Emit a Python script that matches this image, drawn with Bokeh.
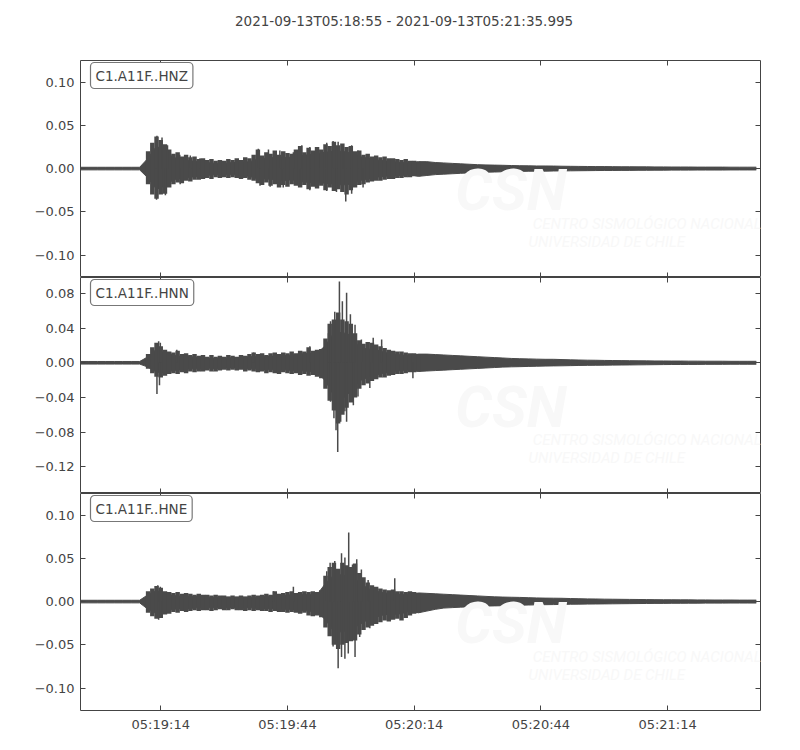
import numpy as np
import pandas as pd
from bokeh.plotting import figure
from bokeh.layouts import column
from bokeh.models import (ColumnDataSource, Range1d, FixedTicker, LinearAxis, DatetimeAxis,
                          CustomJSTickFormatter, DatetimeTickFormatter, Label)
from bokeh.core.properties import value
from bokeh.embed import file_html
from bokeh.resources import INLINE

# ---- data ----
title_text = "2021-09-13T05:18:55  -  2021-09-13T05:21:35.995"
start_time = "2021-09-13T05:18:55"
duration_s = 160.995
channels = ["C1.A11F..HNZ", "C1.A11F..HNN", "C1.A11F..HNE"]
time_tick_labels = ["05:19:14", "05:19:44", "05:20:14", "05:20:44", "05:21:14"]
y_ticks = [
    [-0.10, -0.05, 0.0, 0.05, 0.10],
    [-0.12, -0.08, -0.04, 0.0, 0.04, 0.08],
    [-0.10, -0.05, 0.0, 0.05, 0.10],
]
y_limits = [(-0.126, 0.125), (-0.151, 0.0985), (-0.126, 0.125)]

# dense core of each trace, every 2 s from the start time (0 .. 160 s)
core_seconds = np.arange(0, 161, 2)
hnz_core_hi = [
    0.0015, 0.0015, 0.0015, 0.0015, 0.0015, 0.0015, 0.0015, 0.0015, 0.012, 0.026,
    0.020, 0.013, 0.010, 0.009, 0.008, 0.007, 0.006, 0.006, 0.007, 0.007,
    0.008, 0.011, 0.012, 0.013, 0.013, 0.013, 0.015, 0.016, 0.017, 0.019,
    0.020, 0.020, 0.018, 0.014, 0.012, 0.010, 0.009, 0.008, 0.007, 0.0065,
    0.008, 0.008, 0.007, 0.0065, 0.006, 0.0055, 0.005, 0.0045, 0.0042, 0.004,
    0.0038, 0.0035, 0.0033, 0.0032, 0.003, 0.003, 0.0029, 0.0027, 0.0026, 0.0025,
    0.0024, 0.0023, 0.0023, 0.0022, 0.0021, 0.0021, 0.002, 0.002, 0.0019, 0.0019,
    0.0018, 0.0018, 0.0018, 0.0017, 0.0017, 0.0017, 0.0017, 0.0016, 0.0016, 0.0016,
    0.0016]
hnz_core_lo = [
    -0.0015, -0.0015, -0.0015, -0.0015, -0.0015, -0.0015, -0.0015, -0.0015, -0.011, -0.024,
    -0.020, -0.013, -0.011, -0.010, -0.009, -0.008, -0.007, -0.007, -0.007, -0.008,
    -0.009, -0.012, -0.012, -0.013, -0.014, -0.013, -0.015, -0.016, -0.016, -0.017,
    -0.018, -0.019, -0.018, -0.014, -0.012, -0.010, -0.009, -0.008, -0.008, -0.007,
    -0.009, -0.008, -0.007, -0.0065, -0.006, -0.0055, -0.005, -0.0045, -0.0042, -0.004,
    -0.0037, -0.0035, -0.0033, -0.0031, -0.003, -0.003, -0.0028, -0.0027, -0.0026, -0.0025,
    -0.0024, -0.0023, -0.0022, -0.0022, -0.0021, -0.0021, -0.002, -0.002, -0.0019, -0.0019,
    -0.0018, -0.0018, -0.0018, -0.0017, -0.0017, -0.0017, -0.0017, -0.0016, -0.0016, -0.0016,
    -0.0016]
hnn_core_hi = [
    0.0015, 0.0015, 0.0015, 0.0015, 0.0015, 0.0015, 0.0015, 0.0015, 0.007, 0.016,
    0.011, 0.009, 0.007, 0.007, 0.006, 0.005, 0.005, 0.005, 0.006, 0.006,
    0.007, 0.007, 0.007, 0.008, 0.008, 0.009, 0.010, 0.011, 0.011, 0.020,
    0.035, 0.035, 0.032, 0.018, 0.016, 0.015, 0.012, 0.010, 0.009, 0.008,
    0.010, 0.010, 0.0095, 0.009, 0.0085, 0.008, 0.0075, 0.007, 0.0065, 0.006,
    0.0055, 0.005, 0.0047, 0.0045, 0.0042, 0.004, 0.004, 0.0037, 0.0034, 0.0032,
    0.003, 0.0029, 0.0027, 0.0026, 0.0025, 0.0024, 0.0023, 0.0022, 0.0021, 0.0021,
    0.002, 0.002, 0.0019, 0.0019, 0.0018, 0.0018, 0.0018, 0.0017, 0.0017, 0.0017,
    0.0017]
hnn_core_lo = [
    -0.0015, -0.0015, -0.0015, -0.0015, -0.0015, -0.0015, -0.0015, -0.0015, -0.005, -0.011,
    -0.011, -0.009, -0.008, -0.007, -0.007, -0.006, -0.007, -0.006, -0.006, -0.006,
    -0.007, -0.007, -0.008, -0.008, -0.008, -0.009, -0.009, -0.010, -0.011, -0.021,
    -0.038, -0.042, -0.033, -0.021, -0.017, -0.014, -0.012, -0.010, -0.009, -0.008,
    -0.010, -0.0095, -0.009, -0.0085, -0.008, -0.0075, -0.007, -0.0065, -0.006, -0.0055,
    -0.005, -0.0047, -0.0045, -0.0042, -0.004, -0.0038, -0.0036, -0.0035, -0.0033, -0.0031,
    -0.003, -0.0029, -0.0028, -0.0027, -0.0026, -0.0025, -0.0024, -0.0023, -0.0022, -0.0021,
    -0.002, -0.002, -0.0019, -0.0019, -0.0018, -0.0018, -0.0018, -0.0017, -0.0017, -0.0017,
    -0.0017]
hne_core_hi = [
    0.0015, 0.0015, 0.0015, 0.0015, 0.0015, 0.0015, 0.0015, 0.0015, 0.008, 0.013,
    0.009, 0.007, 0.006, 0.006, 0.006, 0.005, 0.005, 0.005, 0.005, 0.005,
    0.005, 0.005, 0.006, 0.007, 0.007, 0.008, 0.008, 0.008, 0.008, 0.021,
    0.031, 0.031, 0.028, 0.023, 0.015, 0.012, 0.010, 0.009, 0.008, 0.008,
    0.010, 0.0095, 0.009, 0.0085, 0.008, 0.0075, 0.007, 0.0065, 0.006, 0.0055,
    0.0052, 0.005, 0.0048, 0.0045, 0.0042, 0.004, 0.0039, 0.0038, 0.0035, 0.0033,
    0.0031, 0.003, 0.0028, 0.0027, 0.0026, 0.0025, 0.0024, 0.0023, 0.0022, 0.0021,
    0.0021, 0.002, 0.002, 0.0019, 0.0019, 0.0018, 0.0018, 0.0018, 0.0017, 0.0017,
    0.0017]
hne_core_lo = [
    -0.0015, -0.0015, -0.0015, -0.0015, -0.0015, -0.0015, -0.0015, -0.0015, -0.009, -0.014,
    -0.011, -0.009, -0.008, -0.008, -0.007, -0.007, -0.007, -0.007, -0.007, -0.007,
    -0.007, -0.008, -0.008, -0.008, -0.009, -0.009, -0.010, -0.011, -0.012, -0.021,
    -0.035, -0.035, -0.032, -0.027, -0.021, -0.018, -0.015, -0.015, -0.014, -0.011,
    -0.013, -0.011, -0.009, -0.0075, -0.007, -0.0065, -0.006, -0.0056, -0.0052, -0.005,
    -0.0048, -0.0046, -0.0042, -0.004, -0.0038, -0.0036, -0.0035, -0.0033, -0.0031, -0.003,
    -0.0029, -0.0028, -0.0027, -0.0026, -0.0025, -0.0024, -0.0023, -0.0022, -0.0021, -0.0021,
    -0.002, -0.002, -0.0019, -0.0019, -0.0018, -0.0018, -0.0018, -0.0017, -0.0017, -0.0017,
    -0.0017]

# ragged outline of the strong-motion part, every 1 s from 15 s to 80 s
fine_seconds = np.arange(15, 81, 1)
hnz_fine_hi = [
    0.004, 0.020, 0.030, 0.037, 0.033, 0.028, 0.022, 0.017, 0.019, 0.014,
    0.016, 0.013, 0.014, 0.011, 0.012, 0.010, 0.011, 0.009, 0.010, 0.009,
    0.011, 0.010, 0.012, 0.010, 0.013, 0.012, 0.016, 0.022, 0.015, 0.019,
    0.017, 0.021, 0.016, 0.020, 0.018, 0.017, 0.022, 0.026, 0.019, 0.024,
    0.021, 0.025, 0.022, 0.028, 0.026, 0.031, 0.027, 0.029, 0.025, 0.026,
    0.020, 0.021, 0.016, 0.017, 0.014, 0.015, 0.013, 0.014, 0.012, 0.012,
    0.011, 0.010, 0.011, 0.009, 0.009, 0.008]
hnz_fine_lo = [
    -0.003, -0.018, -0.030, -0.035, -0.030, -0.029, -0.022, -0.018, -0.016, -0.017,
    -0.014, -0.015, -0.013, -0.013, -0.012, -0.011, -0.012, -0.010, -0.011, -0.010,
    -0.011, -0.010, -0.011, -0.012, -0.011, -0.013, -0.014, -0.017, -0.019, -0.016,
    -0.020, -0.018, -0.022, -0.019, -0.021, -0.018, -0.020, -0.022, -0.019, -0.024,
    -0.021, -0.023, -0.020, -0.025, -0.022, -0.026, -0.024, -0.027, -0.030, -0.025,
    -0.022, -0.019, -0.018, -0.016, -0.015, -0.014, -0.014, -0.013, -0.012, -0.012,
    -0.011, -0.011, -0.010, -0.010, -0.009, -0.009]
hnn_fine_hi = [
    0.003, 0.010, 0.018, 0.023, 0.019, 0.015, 0.013, 0.012, 0.014, 0.010,
    0.011, 0.009, 0.010, 0.008, 0.009, 0.007, 0.009, 0.007, 0.008, 0.007,
    0.009, 0.008, 0.007, 0.009, 0.008, 0.010, 0.012, 0.010, 0.011, 0.009,
    0.011, 0.012, 0.010, 0.012, 0.011, 0.013, 0.011, 0.014, 0.013, 0.018,
    0.014, 0.015, 0.016, 0.028, 0.045, 0.050, 0.058, 0.050, 0.048, 0.045,
    0.034, 0.026, 0.022, 0.024, 0.023, 0.021, 0.019, 0.017, 0.015, 0.014,
    0.013, 0.013, 0.012, 0.011, 0.011, 0.010]
hnn_fine_lo = [
    -0.002, -0.007, -0.012, -0.016, -0.017, -0.015, -0.013, -0.012, -0.013, -0.011,
    -0.012, -0.010, -0.011, -0.010, -0.010, -0.009, -0.010, -0.010, -0.009, -0.008,
    -0.009, -0.008, -0.009, -0.008, -0.010, -0.009, -0.010, -0.011, -0.010, -0.012,
    -0.011, -0.012, -0.013, -0.011, -0.012, -0.013, -0.012, -0.014, -0.013, -0.015,
    -0.014, -0.016, -0.018, -0.030, -0.044, -0.055, -0.070, -0.060, -0.052, -0.046,
    -0.040, -0.030, -0.026, -0.024, -0.021, -0.019, -0.017, -0.017, -0.015, -0.014,
    -0.013, -0.013, -0.012, -0.011, -0.011, -0.010]
hne_fine_hi = [
    0.003, 0.012, 0.015, 0.018, 0.016, 0.012, 0.011, 0.010, 0.011, 0.009,
    0.010, 0.009, 0.008, 0.009, 0.008, 0.008, 0.007, 0.008, 0.007, 0.007,
    0.006, 0.007, 0.006, 0.007, 0.006, 0.007, 0.008, 0.007, 0.008, 0.009,
    0.008, 0.012, 0.009, 0.010, 0.011, 0.012, 0.010, 0.011, 0.012, 0.011,
    0.012, 0.011, 0.013, 0.030, 0.040, 0.045, 0.038, 0.045, 0.042, 0.040,
    0.044, 0.033, 0.028, 0.022, 0.019, 0.017, 0.015, 0.014, 0.013, 0.014,
    0.012, 0.012, 0.011, 0.012, 0.011, 0.010]
hne_fine_lo = [
    -0.003, -0.013, -0.017, -0.020, -0.019, -0.015, -0.014, -0.012, -0.013, -0.011,
    -0.012, -0.011, -0.010, -0.011, -0.010, -0.010, -0.011, -0.010, -0.009, -0.010,
    -0.010, -0.009, -0.010, -0.010, -0.011, -0.010, -0.011, -0.010, -0.011, -0.011,
    -0.012, -0.011, -0.012, -0.012, -0.013, -0.012, -0.013, -0.014, -0.013, -0.016,
    -0.017, -0.016, -0.018, -0.030, -0.040, -0.050, -0.055, -0.050, -0.048, -0.046,
    -0.045, -0.038, -0.033, -0.030, -0.028, -0.026, -0.024, -0.022, -0.023, -0.021,
    -0.020, -0.022, -0.019, -0.016, -0.014, -0.013]

# single peaks that stick out (seconds after start, amplitude)
hnz_spike_s = [18.1, 19.3, 20.6, 23.5, 26.0, 28.3, 42.1, 44.5, 47.2, 50.4, 52.4, 54.3,
               56.3, 58.3, 59.8, 61.0, 62.2, 64.2, 65.7,
               18.0, 20.1, 23.6, 42.5, 44.9, 48.0, 52.0, 54.3, 58.3, 60.6, 62.8, 64.2, 66.9]
hnz_spike_v = [0.038, 0.036, 0.027, 0.016, 0.015, 0.012, 0.023, 0.022, 0.021, 0.019, 0.027, 0.025,
               0.025, 0.030, 0.032, 0.031, 0.028, 0.027, 0.021,
               -0.036, -0.031, -0.018, -0.020, -0.021, -0.022, -0.021, -0.025, -0.026, -0.027,
               -0.038, -0.029, -0.022]
hnn_spike_s = [18.5, 18.9, 22.8, 41.0, 54.3, 58.7, 59.2, 60.2, 61.3, 62.0, 63.0, 63.9, 65.0,
               66.5, 69.3, 71.3,
               18.1, 18.7, 58.7, 59.2, 60.0, 60.5, 60.9, 61.6, 62.6, 63.0, 64.6, 65.7, 68.5, 78.7]
hnn_spike_v = [0.025, 0.023, 0.015, 0.012, 0.019, 0.034, 0.048, 0.059, 0.094, 0.071, 0.081, 0.056,
               0.044, 0.027, 0.029, 0.027,
               -0.036, -0.026, -0.026, -0.045, -0.064, -0.078, -0.103, -0.068, -0.056, -0.068,
               -0.049, -0.039, -0.029, -0.018]
hne_spike_s = [18.3, 18.9, 45.7, 50.4, 58.3, 59.1, 60.2, 61.8, 62.6, 63.5, 64.4, 65.4, 66.5,
               68.1, 74.4,
               18.5, 19.3, 59.8, 61.0, 61.8, 62.6, 63.4, 65.0, 66.1, 68.5]
hne_spike_v = [0.019, 0.017, 0.012, 0.017, 0.035, 0.045, 0.047, 0.056, 0.051, 0.080, 0.043, 0.049,
               0.037, 0.025, 0.027,
               -0.021, -0.019, -0.052, -0.077, -0.064, -0.066, -0.060, -0.064, -0.041, -0.031]

cores = [(hnz_core_hi, hnz_core_lo), (hnn_core_hi, hnn_core_lo), (hne_core_hi, hne_core_lo)]
fines = [(hnz_fine_hi, hnz_fine_lo), (hnn_fine_hi, hnn_fine_lo), (hne_fine_hi, hne_fine_lo)]
spikes = [(hnz_spike_s, hnz_spike_v), (hnn_spike_s, hnn_spike_v), (hne_spike_s, hne_spike_v)]

# ---- styling ----
INK = "#4a4a4a"
TXT = "#444444"
FONT = "DejaVu Sans"
WM = "#f8f8f8"
PAGE_W = 784

t0_ms = pd.Timestamp(start_time).value / 1e6
span_x = duration_s * 1000
x_range = Range1d(t0_ms, t0_ms + span_x)
day = start_time.split("T")[0]
time_ticks = [pd.Timestamp(day + "T" + lbl).value / 1e6 for lbl in time_tick_labels]

blank = CustomJSTickFormatter(code="return ''")
yfmt = CustomJSTickFormatter(code="""
    const v = Math.abs(tick) < 1e-9 ? 0 : tick;
    return (v < 0 ? '\u2212' : '') + Math.abs(v).toFixed(2);
""")
tfmt = DatetimeTickFormatter(milliseconds="%H:%M:%S", seconds="%H:%M:%S", minsec="%H:%M:%S",
                             minutes="%H:%M:%S", hourmin="%H:%M:%S", hours="%H:%M:%S")


def style_axis(ax, labels):
    ax.major_tick_in = 5
    ax.major_tick_out = 0
    ax.minor_tick_line_color = None
    ax.axis_line_color = None
    ax.major_tick_line_color = TXT
    ax.major_label_text_font = FONT
    ax.major_label_text_color = TXT
    if labels:
        ax.major_label_text_font_size = "13px"
        ax.major_label_standoff = 6
    else:
        ax.formatter = blank
        ax.major_label_text_font_size = "0px"
        ax.major_label_standoff = 0


# title strip: a bare figure, text centred on the page
head = figure(width=PAGE_W, height=40, x_range=Range1d(0, PAGE_W), y_range=Range1d(0, 40),
              x_axis_location=None, y_axis_location=None, output_backend="svg",
              toolbar_location=None, min_border=0)
head.outline_line_color = None
head.grid.visible = False
head.text(x=[378], y=[20], text=[title_text], text_font=value(FONT), text_font_size="13.5px",
          text_color=TXT, text_align="center", text_baseline="middle")

heights = [237, 216, 247]
borders_top = [20, 0, 0]
borders_bottom = [0, 0, 30]
panels = [head]
for i, name in enumerate(channels):
    lo_lim, hi_lim = y_limits[i]
    span_y = hi_lim - lo_lim
    p = figure(width=PAGE_W, height=heights[i], x_axis_type="datetime",
               x_range=x_range, y_range=Range1d(lo_lim, hi_lim),
               output_backend="svg", toolbar_location=None,
               min_border_left=80, min_border_right=24,
               min_border_top=borders_top[i], min_border_bottom=borders_bottom[i])
    p.grid.visible = False
    p.outline_line_color = TXT
    p.outline_line_width = 1
    p.background_fill_color = "white"

    # very faint CSN watermark
    p.add_layout(Label(x=t0_ms + 0.551 * span_x, y=lo_lim + 0.245 * span_y, text="CSN",
                       text_font="Roboto", text_font_style="bold italic",
                       text_font_size="58px", text_color=WM))
    p.add_layout(Label(x=t0_ms + 0.665 * span_x, y=lo_lim + 0.207 * span_y,
                       text="CENTRO SISMOLÓGICO NACIONAL", text_font="Roboto",
                       text_font_style="italic", text_font_size="15px", text_color=WM))
    p.add_layout(Label(x=t0_ms + 0.659 * span_x, y=lo_lim + 0.124 * span_y,
                       text="UNIVERSIDAD DE CHILE", text_font="Roboto",
                       text_font_style="italic", text_font_size="15px", text_color=WM))

    # trace: dense core, ragged 1-s outline, single peaks
    hi, lo = cores[i]
    src = ColumnDataSource(dict(t=t0_ms + core_seconds * 1000, hi=hi, lo=lo))
    p.varea(x="t", y1="lo", y2="hi", source=src, fill_color=INK)
    p.line(x="t", y="hi", source=src, line_color=INK, line_width=1)
    p.line(x="t", y="lo", source=src, line_color=INK, line_width=1)

    fhi, flo = fines[i]
    fsrc = ColumnDataSource(dict(t=t0_ms + fine_seconds * 1000, hi=fhi, lo=flo))
    p.vbar(x="t", width=1050, top="hi", bottom="lo", source=fsrc,
           fill_color=INK, line_color=None)

    ss, sv = spikes[i]
    ssrc = ColumnDataSource(dict(t=t0_ms + np.asarray(ss) * 1000, v=sv, z=[0.0] * len(sv)))
    p.segment(x0="t", y0="z", x1="t", y1="v", source=ssrc, line_color=INK, line_width=1.5)

    # station label box
    p.add_layout(Label(x=t0_ms, y=hi_lim, x_offset=10, y_offset=-2, text=name,
                       text_font=FONT, text_font_size="13.5px", text_color=TXT,
                       text_align="left", text_baseline="top",
                       background_fill_color="white", border_line_color="#777777",
                       border_line_width=1.2, padding=5, border_radius=4))

    # axes: ticks inward on all four sides
    bottom = p.xaxis[0]
    bottom.ticker = FixedTicker(ticks=time_ticks)
    bottom.formatter = tfmt
    style_axis(bottom, labels=(i == len(channels) - 1))
    left = p.yaxis[0]
    left.ticker = FixedTicker(ticks=y_ticks[i])
    left.formatter = yfmt
    style_axis(left, labels=True)

    top = DatetimeAxis(ticker=FixedTicker(ticks=time_ticks))
    style_axis(top, labels=False)
    p.add_layout(top, "above")
    right = LinearAxis(ticker=FixedTicker(ticks=y_ticks[i]))
    style_axis(right, labels=False)
    p.add_layout(right, "right")
    panels.append(p)

layout = column(*panels, spacing=0)
open("out.html", "w").write(file_html(layout, INLINE))
